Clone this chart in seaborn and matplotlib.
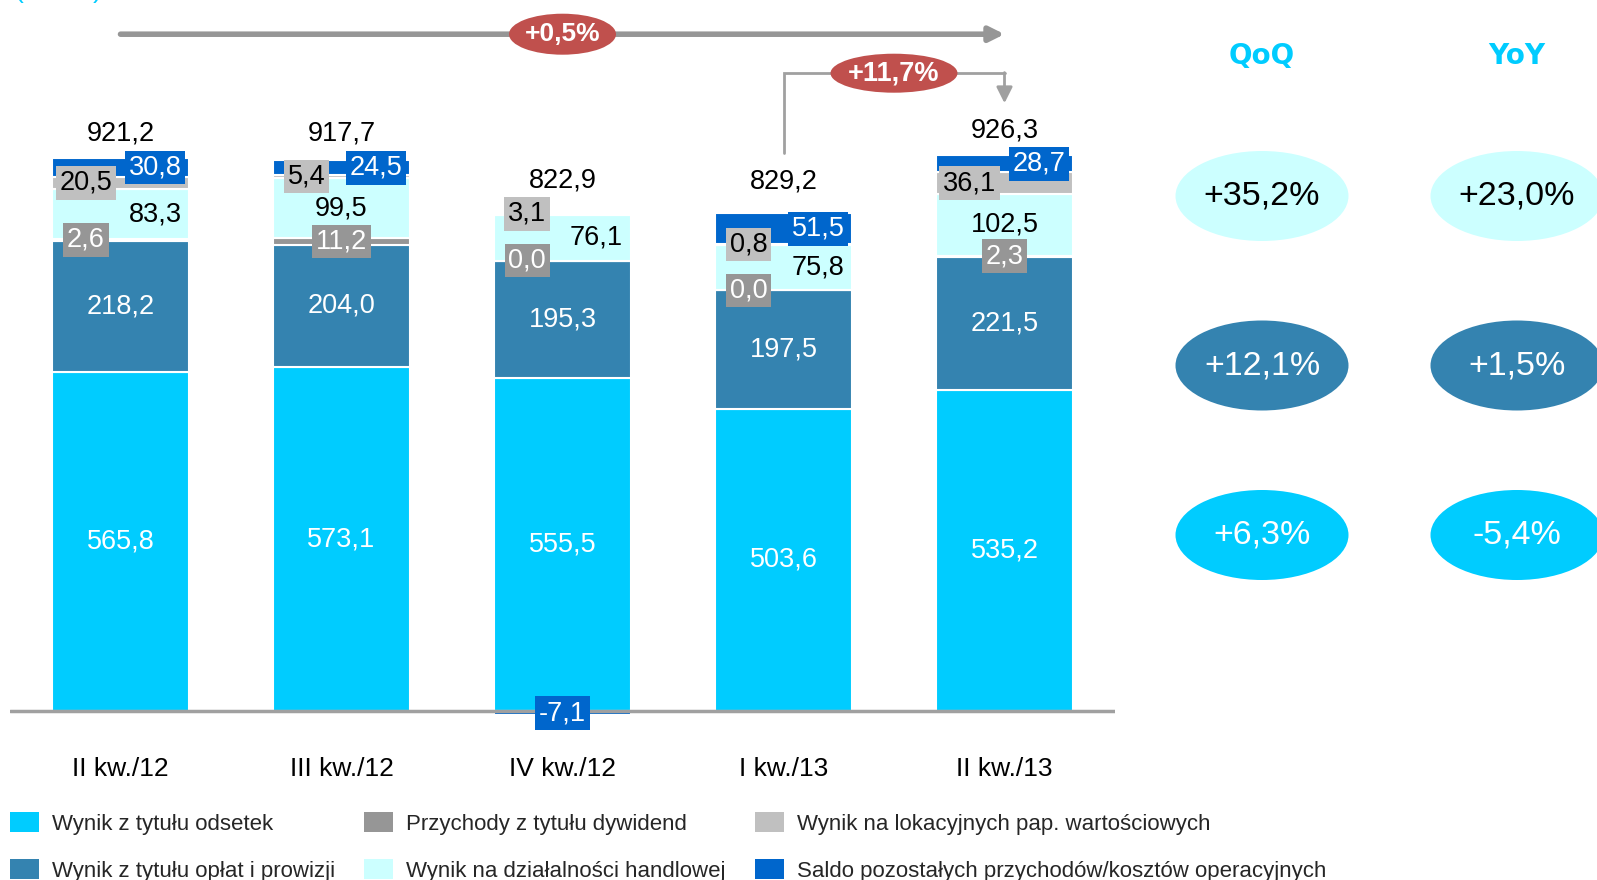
import matplotlib
matplotlib.use("Agg")
import matplotlib.pyplot as plt
from matplotlib.patches import Ellipse, Patch
import seaborn as sns
import numpy as np
import pandas as pd

# data (mln zł)
quarters = ["II kw./12", "III kw./12", "IV kw./12", "I kw./13", "II kw./13"]
components = [
    "Wynik z tytułu odsetek",
    "Wynik z tytułu opłat i prowizji",
    "Przychody z tytułu dywidend",
    "Wynik na działalności handlowej",
    "Wynik na lokacyjnych pap. wartościowych",
    "Saldo pozostałych przychodów/kosztów operacyjnych",
]
odsetki = [565.8, 573.1, 555.5, 503.6, 535.2]
prowizje = [218.2, 204.0, 195.3, 197.5, 221.5]
dywidendy = [2.6, 11.2, 0.0, 0.0, 2.3]
handlowa = [83.3, 99.5, 76.1, 75.8, 102.5]
lokacyjne = [20.5, 5.4, 3.1, 0.8, 36.1]
saldo = [30.8, 24.5, -7.1, 51.5, 28.7]
totals = [921.2, 917.7, 822.9, 829.2, 926.3]

yoy_change = "+0,5%"
qoq_change = "+11,7%"

change_rows = ["Wynik na działalności handlowej", "Wynik z tytułu opłat i prowizji", "Wynik z tytułu odsetek"]
change_cols = ["QoQ", "YoY"]
qoq = ["+35,2%", "+12,1%", "+6,3%"]
yoy = ["+23,0%", "+1,5%", "-5,4%"]

colors = ["#00CCFF", "#3483B0", "#969696", "#CCFFFF", "#C0C0C0", "#0066CC"]
RED = "#C0504D"
GREY = "#A0A0A0"

# label styling per component: text colour, box colour, x offsets per bar
label_style = [
    ("white", None, [0, 0, 0, 0, 0]),
    ("white", None, [0, 0, 0, 0, 0]),
    ("white", "#969696", [-0.157, 0, -0.16, -0.157, 0]),
    ("black", None, [0.157, 0, 0.152, 0.157, 0]),
    ("black", "#C0C0C0", [-0.157, -0.157, -0.16, -0.157, -0.157]),
    ("white", "#0066CC", [0.157, 0.157, 0, 0.157, 0.157]),
]
total_pad = [42, 44, 54, 54, 42]

df = pd.DataFrame({
    "quarter": np.repeat(quarters, len(components)),
    "component": components * len(quarters),
    "value": np.array([odsetki, prowizje, dywidendy, handlowa, lokacyjne, saldo]).T.ravel(),
})

sns.set_style("white")
plt.rcParams["font.family"] = ["Liberation Sans", "DejaVu Sans"]

W, H = 1597, 880
fig = plt.figure(figsize=(W / 100, H / 100), dpi=100)
fig.patch.set_facecolor("white")

# main stacked bar axes: zero line at pixel 711, 0.6 px per mln
ax_bottom_px = 725
ax = fig.add_axes([10 / W, (H - ax_bottom_px) / H, 1105 / W, ax_bottom_px / H])

pos_cum = np.zeros(len(quarters))
neg_cum = np.zeros(len(quarters))
mids = []
for comp, col in zip(components, colors):
    vals = df.loc[df["component"] == comp, "value"].to_numpy()
    bottoms = np.where(vals >= 0, pos_cum, neg_cum)
    sns.barplot(data=df[df["component"] == comp], x="quarter", y="value", order=quarters,
                bottom=bottoms, color=col, saturation=1, width=0.62,
                edgecolor="white", linewidth=1.5, ax=ax, errorbar=None)
    mids.append(bottoms + vals / 2)
    pos_cum = pos_cum + np.where(vals >= 0, vals, 0)
    neg_cum = neg_cum + np.where(vals < 0, vals, 0)

ax.set_xlim(-0.5, len(quarters) - 0.5)
ax.set_ylim(-(ax_bottom_px - 711) / 0.6, 711 / 0.6)
ax.axhline(0, color=GREY, lw=2.5, zorder=1)
sns.despine(ax=ax, left=True, bottom=True)
ax.set_yticks([])
ax.set_xlabel("")
ax.set_ylabel("")
ax.tick_params(axis="x", length=0, pad=23, labelsize=19, labelcolor="black")

fmt = lambda v: f"{v:.1f}".replace(".", ",")

# segment labels
for k, comp in enumerate(components):
    tcol, bcol, dxs = label_style[k]
    vals = df.loc[df["component"] == comp, "value"].to_numpy()
    for i, v in enumerate(vals):
        bbox = None
        if bcol is not None:
            bbox = dict(boxstyle="square,pad=0.14", fc=bcol, ec="none")
        ax.text(i + dxs[i], mids[k][i], fmt(v), ha="center", va="center",
                fontsize=19.5, color=tcol, bbox=bbox, zorder=5)

# totals
for i, t in enumerate(totals):
    ax.text(i, pos_cum[i] + total_pad[i], fmt(t), ha="center", va="center",
            fontsize=19.5, color="black")

# year-on-year arrow
y_top = 1128
ax.annotate("", xy=(len(quarters) - 1, y_top), xytext=(0, y_top),
            arrowprops=dict(arrowstyle="-|>", lw=4, color="#969696",
                            mutation_scale=22, shrinkA=0, shrinkB=0))
ax.add_patch(Ellipse((2, y_top), 107 / 221, 41 / 0.6, fc=RED, ec="none", zorder=4))
ax.text(2, y_top, yoy_change, ha="center", va="center", color="white",
        fontsize=19, fontweight="bold", zorder=5)

# quarter-on-quarter connector
y_con = 1063
ax.plot([3, 3, 4], [930, y_con, y_con], color=GREY, lw=2, solid_joinstyle="miter")
ax.annotate("", xy=(4, 1013), xytext=(4, y_con + 1),
            arrowprops=dict(arrowstyle="-|>", lw=2, color=GREY,
                            mutation_scale=24, shrinkA=0, shrinkB=0))
ax.add_patch(Ellipse((3.5, y_con), 127 / 221, 39 / 0.6, fc=RED, ec="none", zorder=4))
ax.text(3.5, y_con, qoq_change, ha="center", va="center", color="white",
        fontsize=19.5, fontweight="bold", zorder=5)

# right panel: QoQ / YoY ellipses
pitch_x, pitch_y = 255, 169.5
ax2 = fig.add_axes([(1262 - pitch_x / 2) / W, 0, 2 * pitch_x / W, 1])
ax2.set_xlim(-0.5, 1.5)
ax2.set_ylim((H - 196) / pitch_y, -196 / pitch_y)
ax2.axis("off")
row_colors = [colors[components.index(r)] for r in change_rows]
for j, (name, vals) in enumerate(zip(change_cols, [qoq, yoy])):
    ax2.text(j, (56 - 196) / pitch_y, name, ha="center", va="center", color="#00CCFF",
             fontsize=20, fontweight="bold", family="DejaVu Sans")
    for r, v in enumerate(vals):
        ax2.add_patch(Ellipse((j, r), 173 / pitch_x, 90 / pitch_y, fc=row_colors[r],
                              ec="none", clip_on=False))
        ax2.text(j, r, v, ha="center", va="center", fontsize=24.5,
                 color="black" if r == 0 else "white")

# unit caption (cut at the top edge)
fig.text(15 / W, 1 + 2 / H, "(mln zł)", color="#00CCFF", fontsize=19, va="baseline")

# legend
handles = [Patch(facecolor=c, edgecolor="none", label=l) for c, l in zip(colors, components)]
fig.legend(handles=handles, loc="upper left", bbox_to_anchor=(10 / W, 1 - 812 / H),
           ncol=3, frameon=False, fontsize=16, handlelength=1.3, handleheight=1.0,
           handletextpad=0.6, columnspacing=1.3, labelspacing=1.1,
           borderpad=0, borderaxespad=0)

fig.savefig("out.png", dpi=100, facecolor="white")
